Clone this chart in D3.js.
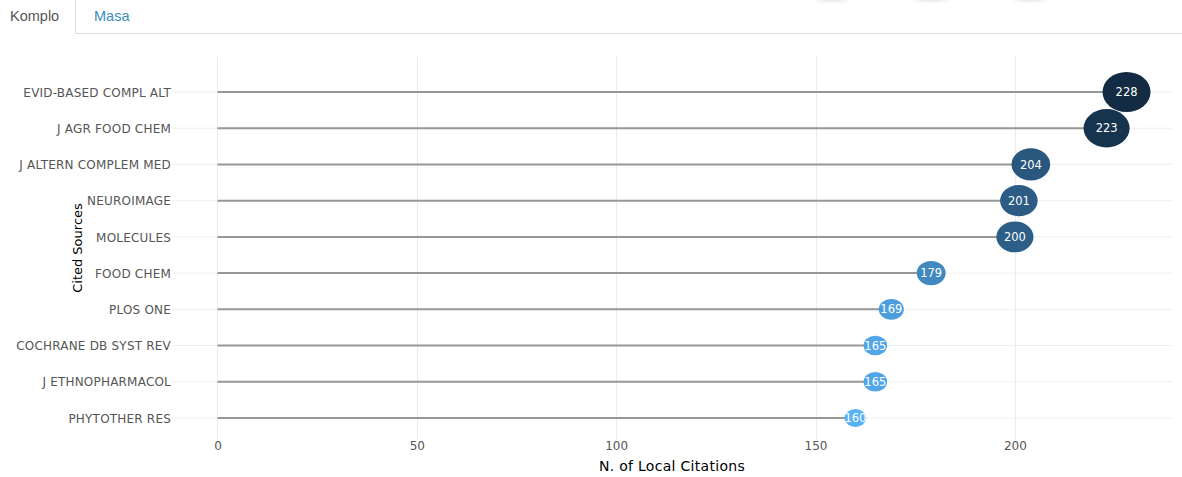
<!DOCTYPE html>
<html><head><meta charset="utf-8">
<script src="https://cdn.jsdelivr.net/npm/d3@7"></script>
<style>
html,body{margin:0;padding:0;background:#fff;}
svg{display:block;}
</style></head>
<body>
<svg id="chart" width="1182" height="477"></svg>
<script>
const sources = ["EVID-BASED COMPL ALT","J AGR FOOD CHEM","J ALTERN COMPLEM MED","NEUROIMAGE","MOLECULES","FOOD CHEM","PLOS ONE","COCHRANE DB SYST REV","J ETHNOPHARMACOL","PHYTOTHER RES"];
const citations = [228,223,204,201,200,179,169,165,165,160];
const xTicks = [0,50,100,150,200];
const tabs = ["Komplo","Masa"];

const svg = d3.select("#chart");
const font = "DejaVu Sans, Verdana, sans-serif";

// tabs
svg.append("line").attr("x1",75.5).attr("x2",75.5).attr("y1",0).attr("y2",33.5).attr("stroke","#ddd");
svg.append("line").attr("x1",75.5).attr("x2",1182).attr("y1",33.5).attr("y2",33.5).attr("stroke","#ddd");
svg.append("text").attr("x",10).attr("y",21).text(tabs[0]).attr("font-family","Liberation Sans, Arial, sans-serif").attr("font-size",14.5).attr("fill","#555");
svg.append("text").attr("x",94).attr("y",21).text(tabs[1]).attr("font-family","Liberation Sans, Arial, sans-serif").attr("font-size",14.5).attr("fill","#3c8dbc");

// faint shadows at top
const defs = svg.append("defs");
defs.append("filter").attr("id","blur").append("feGaussianBlur").attr("stdDeviation",2.5);
[832,931,1030].forEach(cx=>{
  svg.append("ellipse").attr("cx",cx).attr("cy",-6).attr("rx",20).attr("ry",7).attr("fill","#ddd").attr("filter","url(#blur)");
});

const x = d3.scaleLinear().domain([-11.4, 239.4]).range([172, 1172]);
const y = d3.scalePoint().domain(sources).range([92, 418]);
const ry = d3.scaleLinear().domain([160,228]).range([9,20]);
const col = d3.scaleLinear().domain([160,228]).range(["#56B1F7","#132B43"]).interpolate(d3.interpolateLab);

const g = svg.append("g");
// vertical gridlines
g.selectAll(".vg").data(xTicks).join("line")
  .attr("x1",d=>Math.round(x(d))+0.5).attr("x2",d=>Math.round(x(d))+0.5)
  .attr("y1",57).attr("y2",439).attr("stroke","#ebebeb").attr("stroke-width",1);
// horizontal gridlines
g.selectAll(".hg").data(sources).join("line")
  .attr("x1",172).attr("x2",1172)
  .attr("y1",d=>y(d)).attr("y2",d=>y(d)).attr("stroke","#efefef").attr("stroke-width",1);

// y axis labels
const yAxis = d3.axisLeft(y).tickSize(0).tickPadding(0);
const ya = svg.append("g").attr("transform","translate(171,0)").call(yAxis);
ya.select(".domain").remove();
ya.selectAll("text").attr("font-family",font).attr("font-size",12).attr("letter-spacing",0.2).attr("fill","#555").attr("dy","0.35em");

// x axis labels
const xAxis = d3.axisBottom(x).tickValues(xTicks).tickSize(0).tickPadding(0);
const xa = svg.append("g").attr("transform","translate(0,441)").call(xAxis);
xa.select(".domain").remove();
xa.selectAll("text").attr("font-family",font).attr("font-size",12).attr("fill","#555");

// stems
const data = sources.map((s,i)=>({s, v: citations[i]}));
g.selectAll(".stem").data(data).join("line")
  .attr("x1",x(0)).attr("x2",d=>x(d.v))
  .attr("y1",d=>y(d.s)).attr("y2",d=>y(d.s))
  .attr("stroke","#979797").attr("stroke-width",2);

// bubbles
g.selectAll(".bub").data(data).join("ellipse")
  .attr("cx",d=>x(d.v)).attr("cy",d=>y(d.s))
  .attr("rx",d=>ry(d.v)*1.2).attr("ry",d=>ry(d.v))
  .attr("fill",d=>col(d.v));
g.selectAll(".lab").data(data).join("text")
  .attr("x",d=>x(d.v)).attr("y",d=>y(d.s)).attr("dy","0.36em")
  .attr("text-anchor","middle").attr("font-family",font).attr("font-size",11.5)
  .attr("fill","#fff").text(d=>d.v);

// axis titles
svg.append("text").attr("x",672).attr("y",471).attr("text-anchor","middle")
  .attr("font-family",font).attr("font-size",14).attr("letter-spacing",0.3).attr("fill","#000").text("N. of Local Citations");
svg.append("text").attr("transform","translate(82,248) rotate(-90)").attr("text-anchor","middle")
  .attr("font-family",font).attr("font-size",13).attr("fill","#000").text("Cited Sources");
</script>
</body></html>
